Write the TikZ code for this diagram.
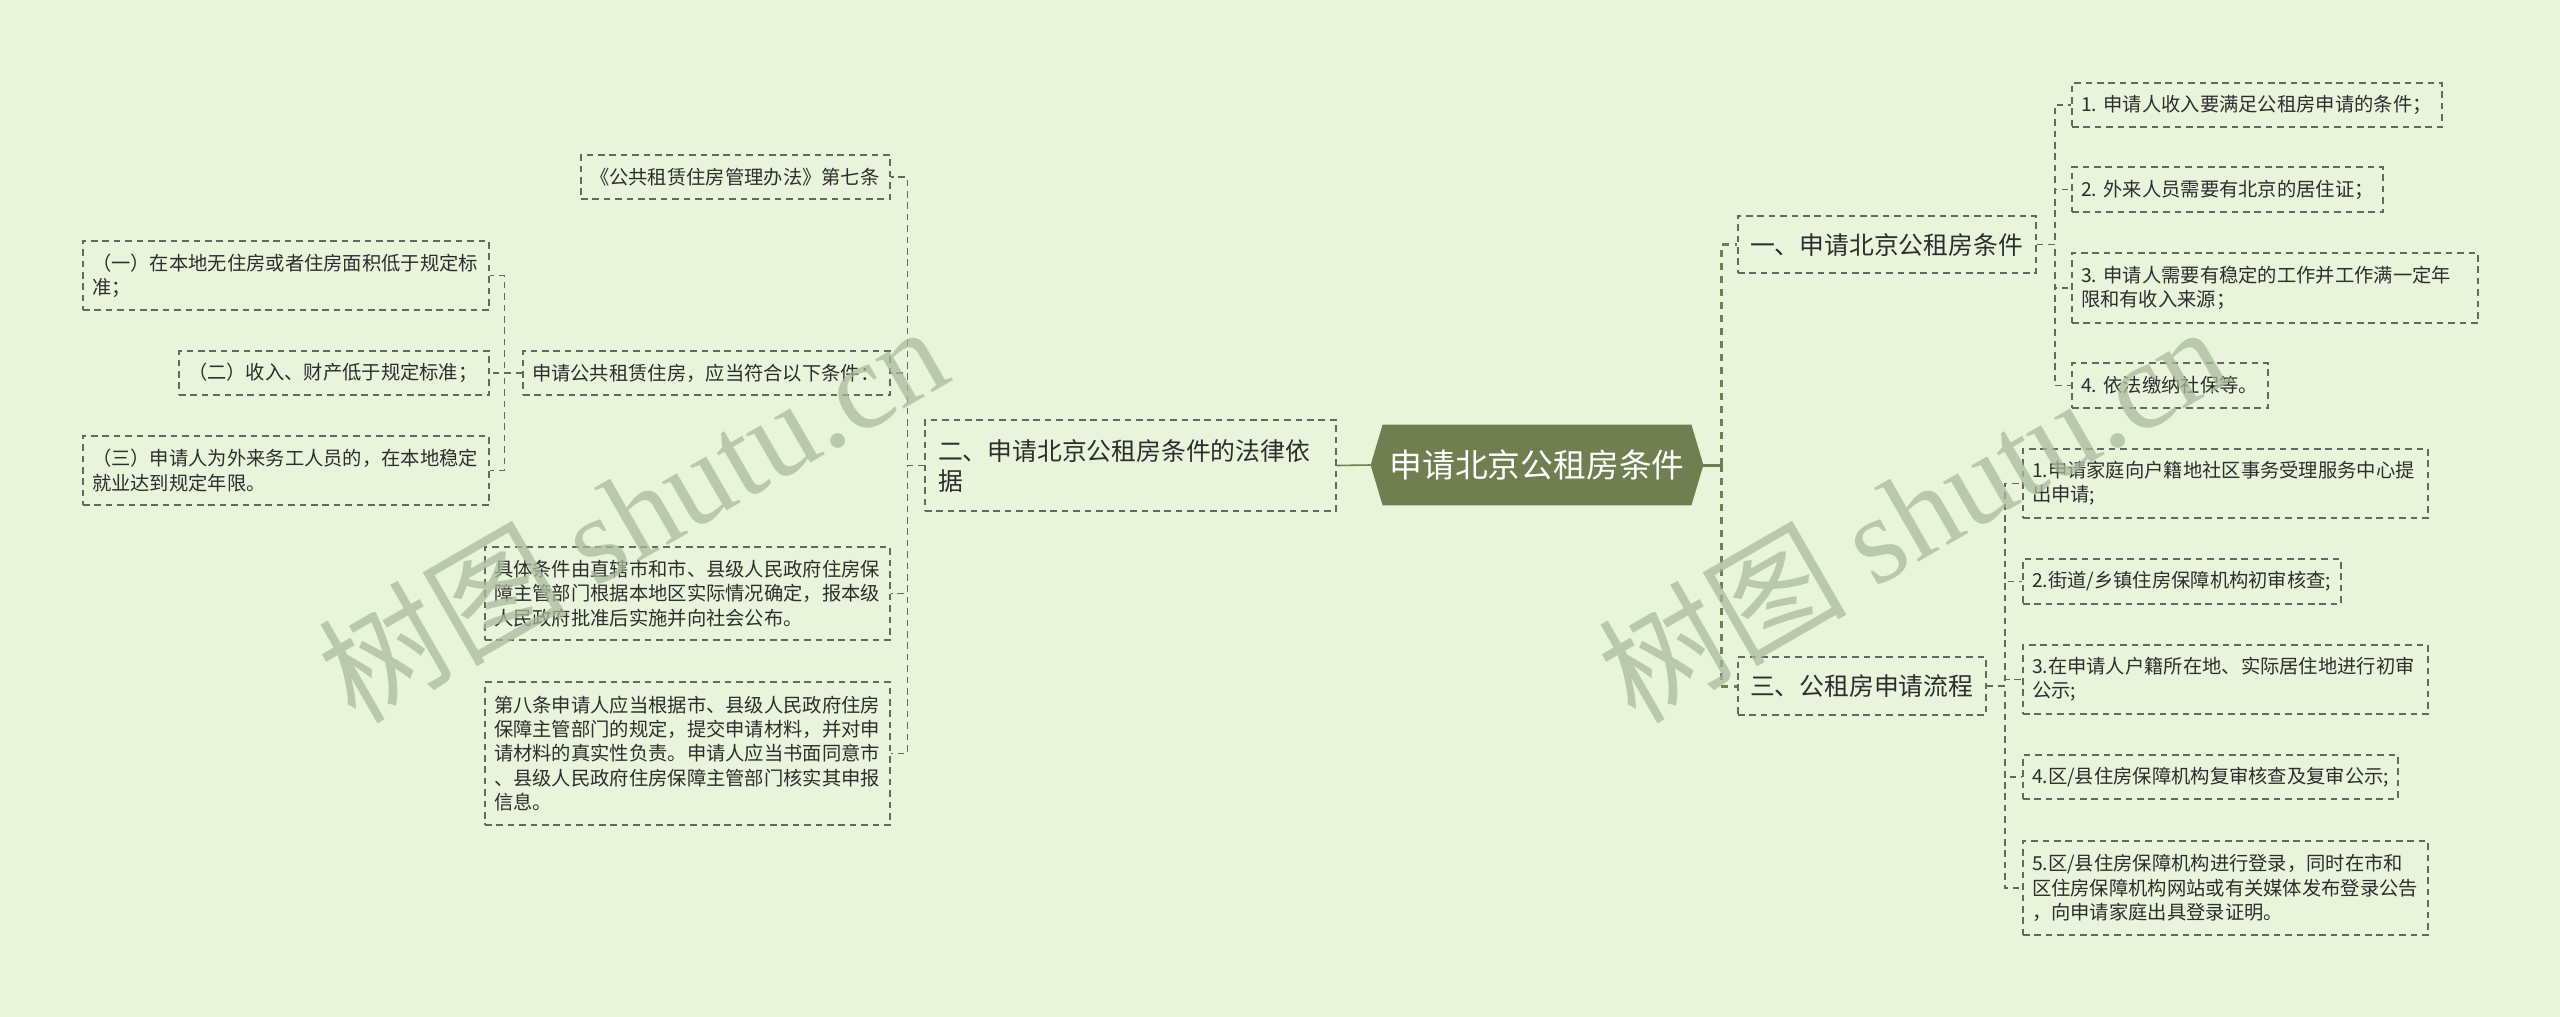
\documentclass[tikz,border=0pt]{standalone}
\usepackage{fontspec}
\setmainfont{Noto Sans CJK SC}
\newfontfamily\wmfont{Liberation Serif}
\usetikzlibrary{backgrounds}
\definecolor{bgcol}{RGB}{232,245,219}
\definecolor{rootcol}{RGB}{111,127,80}
\definecolor{linecol}{RGB}{102,104,96}
\definecolor{txtcol}{RGB}{45,45,45}
\definecolor{wmcol}{RGB}{170,187,155}
\frenchspacing

\begin{document}
\begin{tikzpicture}[x=0.5pt, y=-0.5pt,
    leaf/.style={draw=linecol, line width=0.75pt, dash pattern=on 3.3pt off 2.4pt,
        inner xsep=4.5pt, inner ysep=2pt, align=left, text=txtcol,
        font=\fontsize{9.65pt}{12.1pt}\selectfont},
    branch/.style={leaf, inner xsep=6pt, font=\fontsize{12.4pt}{15pt}\selectfont},
    roottext/.style={minimum width=166pt, minimum height=40pt, inner sep=0pt,
        text=white, font=\fontsize{16.4pt}{20pt}\selectfont},
    link/.style={draw=linecol, line width=0.75pt, dash pattern=on 3.3pt off 2.4pt},
    mainlink/.style={draw=rootcol, line width=1.5pt, dash pattern=on 3.5pt off 3pt},
    rootlink/.style={draw=rootcol, line width=1.5pt},
    wm/.style={text=wmcol, opacity=0.75, font=\fontsize{62pt}{62pt}\selectfont}]

    % Background
    \begin{scope}[on background layer]
        \fill[bgcol] (0,0) rectangle (2560,1017);
    \end{scope}

    % Root
    \node[roottext] (root) at (1537,465) {申请北京公租房条件};
    \begin{scope}[on background layer]
        \fill[rootcol] ([xshift=6pt]root.north west) -- ([xshift=-6pt]root.north east)
            -- (root.east) -- ([xshift=-6pt]root.south east)
            -- ([xshift=6pt]root.south west) -- (root.west) -- cycle;
    \end{scope}

    % Left branch
    \node[branch, text width=192.5pt, inner xsep=6.5pt, minimum height=45.5pt] (law) at (1130.5,465.5) {二、申请北京公租房条件的法律依\\据};
    \node[leaf, text width=145.5pt, minimum height=22pt] (art7) at (735.5,177) {《公共租赁住房管理办法》第七条};
    \node[leaf, text width=174.5pt, minimum height=22pt] (req) at (706.5,373) {申请公共租赁住房，应当符合以下条件：};
    \node[leaf, text width=193.5pt, minimum height=46.5pt] (detail) at (687.5,593.5) {具体条件由直辖市和市、县级人民政府住房保\\障主管部门根据本地区实际情况确定，报本级\\人民政府批准后实施并向社会公布。};
    \node[leaf, text width=193.5pt, minimum height=71.5pt] (art8) at (687.5,753.5) {第八条申请人应当根据市、县级人民政府住房\\保障主管部门的规定，提交申请材料，并对申\\请材料的真实性负责。申请人应当书面同意市\\、县级人民政府住房保障主管部门核实其申报\\信息。};

    % Conditions
    \node[leaf, text width=194pt, minimum height=34.5pt] (req1) at (286,275.5) {（一）在本地无住房或者住房面积低于规定标\\准；};
    \node[leaf, text width=146pt, minimum height=22pt] (req2) at (334,373) {（二）收入、财产低于规定标准；};
    \node[leaf, text width=194pt, minimum height=34.5pt] (req3) at (286,470.5) {（三）申请人为外来务工人员的，在本地稳定\\就业达到规定年限。};

    % Right branches
    \node[branch, text width=137pt, minimum height=28.5pt] (cond) at (1887,244.5) {一、申请北京公租房条件};
    \node[branch, text width=112pt, minimum height=29pt] (proc) at (1862,686) {三、公租房申请流程};

    \node[leaf, text width=176pt, minimum height=22pt] (c1) at (2257,105) {1.~申请人收入要满足公租房申请的条件；};
    \node[leaf, text width=146.5pt, minimum height=22.5pt] (c2) at (2227.5,189.5) {2.~外来人员需要有北京的居住证；};
    \node[leaf, text width=194pt, minimum height=35pt] (c3) at (2275,288) {3.~申请人需要有稳定的工作并工作满一定年\\限和有收入来源；};
    \node[leaf, text width=89pt, minimum height=22.5pt] (c4) at (2170,385.5) {4.~依法缴纳社保等。};

    \node[leaf, text width=193.5pt, minimum height=34.5pt] (p1) at (2225.5,483.5) {1.申请家庭向户籍地社区事务受理服务中心提\\出申请;};
    \node[leaf, text width=150pt, minimum height=22.5pt] (p2) at (2182,581.5) {2.街道/乡镇住房保障机构初审核查;};
    \node[leaf, text width=193.5pt, minimum height=34.5pt] (p3) at (2225.5,679.5) {3.在申请人户籍所在地、实际居住地进行初审\\公示;};
    \node[leaf, text width=178.5pt, minimum height=22pt] (p4) at (2210.5,777) {4.区/县住房保障机构复审核查及复审公示;};
    \node[leaf, text width=193.5pt, minimum height=47pt] (p5) at (2225.5,888) {5.区/县住房保障机构进行登录，同时在市和\\区住房保障机构网站或有关媒体发布登录公告\\，向申请家庭出具登录证明。};

    % Root connectors
    \draw[draw=rootcol, line width=0.8pt] (root.west) -- (law.east);
    \coordinate (rjoint) at ([xshift=9pt]root.east);
    \draw[rootlink] (root.east) -- (rjoint);
    \draw[rootlink] ([yshift=3pt]rjoint) -- ([yshift=-3pt]rjoint);
    \draw[mainlink] (rjoint) |- (cond.west);
    \draw[mainlink] (rjoint) |- (proc.west);

    % Left connectors
    \draw[link] (law.west) -- ++(-17,0) |- (art7.east);
    \draw[link] (law.west) -- ++(-17,0) |- (req.east);
    \draw[link] (law.west) -- ++(-17,0) |- (detail.east);
    \draw[link] (law.west) -- ++(-17,0) |- (art8.east);

    \draw[link] (req.west) -- ++(-18,0) |- (req1.east);
    \draw[link] (req.west) -- ++(-18,0) |- (req2.east);
    \draw[link] (req.west) -- ++(-18,0) |- (req3.east);

    % Right connectors
    \draw[link] (cond.east) -- ++(18,0) |- (c1.west);
    \draw[link] (cond.east) -- ++(18,0) |- (c2.west);
    \draw[link] (cond.east) -- ++(18,0) |- (c3.west);
    \draw[link] (cond.east) -- ++(18,0) |- (c4.west);

    \draw[link] (proc.east) -- ++(18,0) |- (p1.west);
    \draw[link] (proc.east) -- ++(18,0) |- (p2.west);
    \draw[link] (proc.east) -- ++(18,0) |- (p3.west);
    \draw[link] (proc.east) -- ++(18,0) |- (p4.west);
    \draw[link] (proc.east) -- ++(18,0) |- (p5.west);

    % Watermark
    \node[wm, rotate=30] (wmleft) at (632,512) {树图 {\wmfont shutu.cn}};
    \node[wm, rotate=30] (wmright) at (1912,512) {树图 {\wmfont shutu.cn}};

\end{tikzpicture}
\end{document}
